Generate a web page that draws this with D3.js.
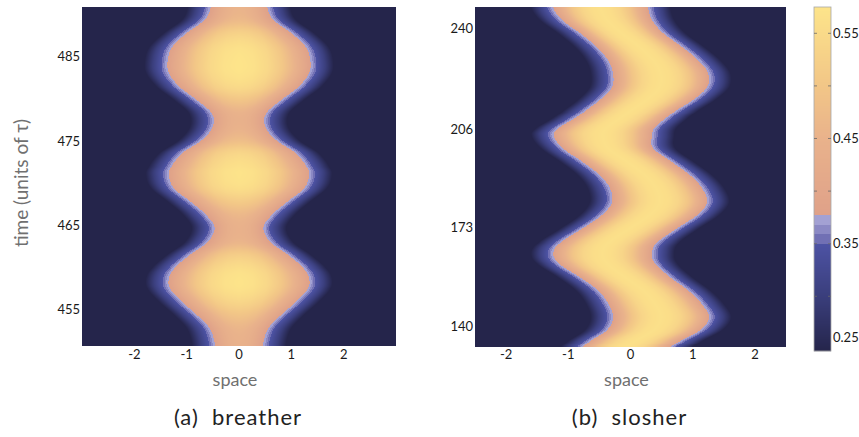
<!DOCTYPE html>
<html lang="en">
<head>
<meta charset="utf-8">
<title>breather / slosher</title>
<script src="https://d3js.org/d3.v7.min.js"></script>
<style>
  body { margin: 0; background: #fff; }
  text { font-family: Lato, "Open Sans", sans-serif; }
  .tick-label { font-size: 13px; fill: #1a1a1a; }
  .axis-title { font-size: 18px; fill: #707070; }
  .caption { font-size: 22px; fill: #222; letter-spacing: 1px; }
</style>
</head>
<body>
<svg id="chart" width="859" height="437"></svg>
<script>

// ---- breather: half width of the bright core and its peak, read per time
var breatherTime = [490.9, 489.4, 487.8, 486.2, 484.6, 483.1, 481.4, 479.9, 478.3, 476.7,
                    475.1, 473.6, 471.9, 471.0, 469.4, 467.7, 466.2, 464.7, 463.0, 461.5,
                    459.9, 458.7, 457.5, 455.9, 454.3, 452.8, 451.1, 450.6];
var breatherHalfWidth = [0.54, 0.65, 1.00, 1.27, 1.36, 1.34, 1.13, 0.81, 0.52, 0.50,
                         0.71, 1.08, 1.29, 1.34, 1.24, 0.90, 0.62, 0.465, 0.60, 0.94,
                         1.23, 1.34, 1.31, 1.08, 0.79, 0.56, 0.465, 0.465];
var breatherPeak = [0.455, 0.47, 0.53, 0.565, 0.575, 0.573, 0.55, 0.50, 0.452, 0.45,
                    0.48, 0.54, 0.567, 0.573, 0.56, 0.51, 0.465, 0.448, 0.46, 0.52,
                    0.56, 0.573, 0.57, 0.54, 0.495, 0.46, 0.448, 0.448];

// ---- slosher: left and right edge of the bright core, read per time
var slosherTime = [247.25, 242.9, 238.5, 233.8, 229.4, 225.05, 220.3, 216.0, 211.6, 209.2,
                   206.5, 204.2, 199.8, 195.1, 190.7, 186.35, 181.6, 177.3, 172.9, 167.85,
                   164.5, 161.1, 156.4, 152.0, 147.7, 142.95, 138.6, 134.2, 132.85];
var slosherLeft = [-1.246, -1.101, -0.812, -0.539, -0.362, -0.281, -0.297, -0.490, -0.764, -0.95,
                   -1.16, -1.235, -1.085, -0.764, -0.490, -0.330, -0.297, -0.458, -0.764, -1.130,
                   -1.240, -1.150, -0.812, -0.523, -0.362, -0.281, -0.378, -0.683, -0.764];
var slosherRight = [0.281, 0.346, 0.523, 0.828, 1.085, 1.246, 1.230, 1.005, 0.683, 0.523,
                    0.380, 0.346, 0.362, 0.667, 0.957, 1.150, 1.230, 1.069, 0.748, 0.420,
                    0.346, 0.394, 0.635, 0.924, 1.133, 1.262, 1.117, 0.748, 0.635];
var slosherPeak = 0.565;

// ---- cross-section shape (inside the core, and the fading rim outside it)
var profileR = [0, 0.2, 0.4, 0.6, 0.8, 1];
var innerShape = [1, 0.96, 0.85, 0.64, 0.34, 0];
var outerShape = [1, 0.84, 0.65, 0.45, 0.22, 0];

// ---- ticks
var breatherXTicks = [-2, -1, 0, 1, 2];
var breatherYTicks = [455, 465, 475, 485];
var slosherXTicks = [-2, -1, 0, 1, 2];
var slosherYTicks = [140, 173, 206, 240];
var colorTicks = [0.25, 0.35, 0.45, 0.55];
var colorMinorTicks = [0.30, 0.40, 0.50];

var FLOOR = 0.248, EDGE = 0.377, TOP = 0.575;

var svg = d3.select("#chart");

// colour function: cool ramp, a few lavender steps, then warm ramp
var coolScale = d3.scaleLinear().domain([FLOOR, 0.30, 0.35])
  .range(["#25254b", "#3a3e7c", "#4d53a4"]).clamp(true);
var warmScale = d3.scaleLinear().domain([EDGE, 0.45, 0.50, TOP])
  .range(["#dfa189", "#e9b28b", "#f2c687", "#fde48a"]).clamp(true);
function colorFor(v) {
  if (v >= EDGE) return warmScale(v);
  if (v >= 0.3674) return "#a3a1d3";
  if (v >= 0.3595) return "#8b89c4";
  if (v >= 0.35) return "#7170b4";
  return coolScale(v);
}

var inner = d3.scaleLinear().domain(profileR).range(innerShape).clamp(true);
var outer = d3.scaleLinear().domain(profileR).range(outerShape).clamp(true);

// catmull-rom through the samples (times run from top to bottom, descending)
function sampleAt(times, vals, t) {
  var n = times.length;
  if (t >= times[0]) return vals[0];
  if (t <= times[n - 1]) return vals[n - 1];
  var i = 0;
  while (i < n - 2 && t < times[i + 1]) i++;
  var u = (times[i] - t) / (times[i] - times[i + 1]);
  var p0 = vals[Math.max(i - 1, 0)], p1 = vals[i], p2 = vals[i + 1], p3 = vals[Math.min(i + 2, n - 1)];
  var u2 = u * u, u3 = u2 * u;
  return 0.5 * (2 * p1 + (-p0 + p2) * u + (2 * p0 - 5 * p1 + 4 * p2 - p3) * u2 +
    (-p0 + 3 * p1 - 3 * p2 + p3) * u3);
}

function fieldValue(x, row, fringe) {
  var c = (row.left + row.right) / 2;
  var hw = (row.right - row.left) / 2;
  var d = Math.abs(x - c);
  if (d <= hw) return EDGE + (row.peak - EDGE) * inner(d / hw);
  return FLOOR + (EDGE - FLOOR) * outer((d - hw) / fringe);
}

function drawPanel(p) {
  var x = p.x, y = p.y;
  var x0 = x.range()[0], x1 = x.range()[1];
  var y0 = y.range()[1], y1 = y.range()[0];
  var W = Math.round(x1 - x0), H = Math.round(y1 - y0);

  var canvas = document.createElement("canvas");
  canvas.width = W;
  canvas.height = H;
  var ctx = canvas.getContext("2d");
  var img = ctx.createImageData(W, H);
  var cache = {};
  for (var j = 0; j < H; j++) {
    var t = y.invert(y0 + j + 0.5);
    var row = p.rowAt(t);
    for (var i = 0; i < W; i++) {
      var v = fieldValue(x.invert(x0 + i + 0.5), row, p.fringe);
      var key = Math.round(v * 2000);
      var c = cache[key] || (cache[key] = d3.rgb(colorFor(key / 2000)));
      var k = (j * W + i) * 4;
      img.data[k] = c.r; img.data[k + 1] = c.g; img.data[k + 2] = c.b; img.data[k + 3] = 255;
    }
  }
  ctx.putImageData(img, 0, 0);

  svg.append("image")
    .attr("x", x0).attr("y", y0)
    .attr("width", W).attr("height", H)
    .attr("preserveAspectRatio", "none")
    .attr("href", canvas.toDataURL());

  svg.append("g").selectAll("text")
    .data(p.xTicks).enter().append("text")
    .attr("class", "tick-label")
    .attr("x", d => x(d))
    .attr("y", 359)
    .attr("text-anchor", "middle")
    .text(d => d < 0 ? "-" + Math.abs(d) : d);

  svg.append("g").selectAll("text")
    .data(p.yTicks).enter().append("text")
    .attr("class", "tick-label")
    .attr("x", x0 - 2)
    .attr("y", d => y(d))
    .attr("dy", "0.35em")
    .attr("text-anchor", "end")
    .text(d => d);

  svg.append("text")
    .attr("class", "axis-title")
    .attr("x", (x0 + x1) / 2 - 4)
    .attr("y", 386)
    .attr("text-anchor", "middle")
    .text("space");

  svg.append("text")
    .attr("class", "caption")
    .attr("x", (x0 + x1) / 2 - 1)
    .attr("y", 425)
    .attr("text-anchor", "middle")
    .text(p.caption);
}

drawPanel({
  x: d3.scaleLinear().domain([-3, 3]).range([82, 396]),
  y: d3.scaleLinear().domain([450.7, 490.9]).range([346, 7]),
  fringe: 0.44,
  rowAt: function(t) {
    var hw = sampleAt(breatherTime, breatherHalfWidth, t);
    return {left: -hw, right: hw, peak: sampleAt(breatherTime, breatherPeak, t)};
  },
  xTicks: breatherXTicks,
  yTicks: breatherYTicks,
  caption: "(a)\u00a0\u00a0breather"
});

drawPanel({
  x: d3.scaleLinear().domain([-2.5, 2.5]).range([475, 786]),
  y: d3.scaleLinear().domain([132.95, 247.25]).range([347, 7]),
  fringe: 0.36,
  rowAt: function(t) {
    return {
      left: sampleAt(slosherTime, slosherLeft, t),
      right: sampleAt(slosherTime, slosherRight, t),
      peak: slosherPeak
    };
  },
  xTicks: slosherXTicks,
  yTicks: slosherYTicks,
  caption: "(b)\u00a0\u00a0slosher"
});

// shared y title
svg.append("text")
  .attr("class", "axis-title")
  .attr("transform", "translate(28,183) rotate(-90)")
  .attr("text-anchor", "middle")
  .style("font-size", "19px")
  .text("time (units of \u03c4)");

// ---- colour bar
var cb = {left: 814, right: 831};
var cScale = d3.scaleLinear().domain([FLOOR, TOP]).range([351, 7]);
var steps = d3.range(cScale.range()[1], cScale.range()[0], 1);
svg.append("g").selectAll("rect")
  .data(steps).enter().append("rect")
  .attr("x", cb.left)
  .attr("y", d => d)
  .attr("width", cb.right - cb.left)
  .attr("height", 1.2)
  .attr("fill", d => colorFor(cScale.invert(d + 0.5)));

svg.append("rect")
  .attr("x", cb.left).attr("y", cScale.range()[1])
  .attr("width", cb.right - cb.left)
  .attr("height", cScale.range()[0] - cScale.range()[1])
  .attr("fill", "none")
  .attr("stroke", "#a8a8a8")
  .attr("stroke-width", 0.8);

var allTicks = colorTicks.concat(colorMinorTicks).filter(d => cScale(d) < cScale.range()[0] - 3);
var tickG = svg.append("g").attr("stroke", "#6a6a6a").attr("stroke-width", 0.8);
tickG.selectAll("line.l").data(allTicks).enter().append("line")
  .attr("class", "l")
  .attr("x1", cb.left).attr("x2", cb.left + 3)
  .attr("y1", d => cScale(d)).attr("y2", d => cScale(d));
tickG.selectAll("line.r").data(allTicks).enter().append("line")
  .attr("class", "r")
  .attr("x1", cb.right - 3).attr("x2", cb.right)
  .attr("y1", d => cScale(d)).attr("y2", d => cScale(d));

svg.append("g").selectAll("text")
  .data(colorTicks).enter().append("text")
  .attr("class", "tick-label")
  .attr("x", cb.right + 2)
  .attr("y", d => Math.min(cScale(d), cScale.range()[0] - 14))
  .attr("dy", "0.35em")
  .text(d => d.toFixed(2));

</script>
</body>
</html>
